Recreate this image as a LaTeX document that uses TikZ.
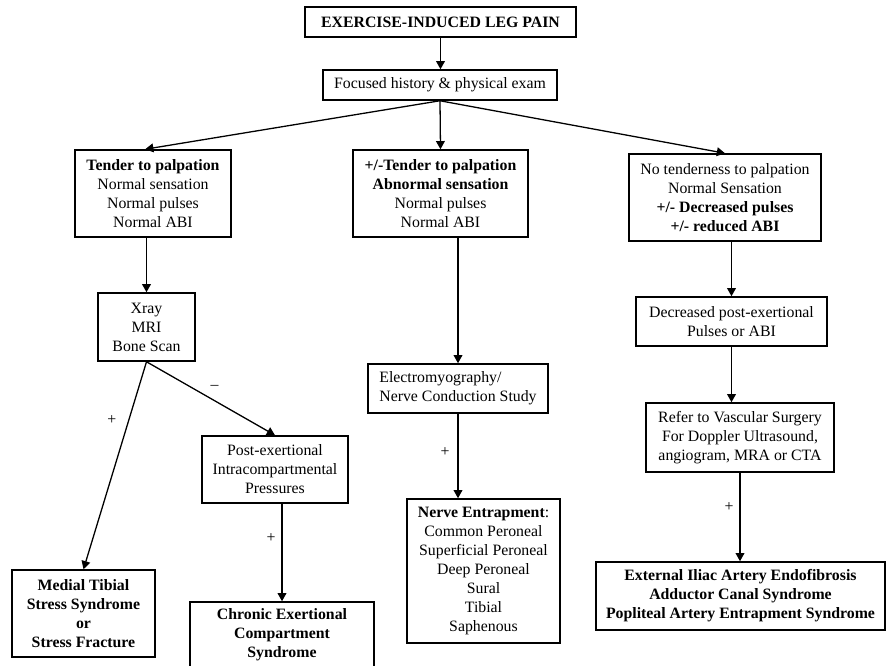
\documentclass[tikz,border=0pt]{standalone}
\usepackage{fontspec}
\setmainfont{Liberation Serif}
\usepackage{tikz}
\usetikzlibrary{arrows.meta}

\begin{document}
\begin{tikzpicture}[x=0.03cm, y=-0.03cm,
  every node/.style={font=\fontsize{13.5}{16.2}\selectfont, align=center},
  box/.style={draw, line width=1.3pt, inner sep=2pt},
  arr/.style={-{Triangle[length=7pt,width=7.5pt]}, line width=1.1pt},
  lbl/.style={inner sep=0pt}]
\useasboundingbox (0,0) rectangle (887,666);
% Top of the chart
\node[box, minimum width=8.13cm, minimum height=0.9cm] (pain) at (440.5,22) {\textbf{EXERCISE-INDUCED LEG PAIN}};
\node[box, minimum width=7.02cm, minimum height=0.9cm] (exam) at (440,85) {Focused history \& physical exam};
% Three findings
\node[box, minimum width=4.68cm, minimum height=2.61cm] (tender) at (153,193.5)
  {\textbf{Tender to palpation}\\Normal sensation\\Normal pulses\\Normal ABI};
\node[box, minimum width=5.25cm, minimum height=2.61cm] (neuro) at (440.5,193.5)
  {\textbf{+/-Tender to palpation}\\\textbf{Abnormal sensation}\\Normal pulses\\Normal ABI};
\node[box, minimum width=5.76cm, minimum height=2.61cm] (vasc) at (725,197.5)
  {No tenderness to palpation\\Normal Sensation\\\textbf{+/- Decreased pulses}\\\textbf{+/- reduced ABI}};
% Bone branch
\node[box, minimum width=2.91cm, minimum height=2.04cm] (imaging) at (146.5,327) {Xray\\MRI\\Bone Scan};
\node[box, minimum width=4.38cm, minimum height=2.01cm] (pressure) at (275,469.5)
  {Post-exertional\\Intracompartmental\\Pressures};
\node[box, minimum width=4.29cm, minimum height=2.61cm] (mtss) at (83.5,613.5)
  {\textbf{Medial Tibial}\\\textbf{Stress Syndrome}\\\textbf{or}\\\textbf{Stress Fracture}};
\node[box, minimum width=5.52cm, minimum height=1.98cm] (cecs) at (282,635)
  {\textbf{Chronic Exertional}\\\textbf{Compartment}\\\textbf{Syndrome}};
% Nerve branch
\node[box, align=left, minimum width=5.4cm, minimum height=1.47cm] (emg) at (458,388.5)
  {Electromyography/\\Nerve Conduction Study};
\node[box, minimum width=4.59cm, minimum height=4.32cm] (nerve) at (483.5,571)
  {\textbf{Nerve Entrapment}:\\Common Peroneal\\Superficial Peroneal\\Deep Peroneal\\Sural\\Tibial\\Saphenous};
% Vascular branch
\node[box, minimum width=5.73cm, minimum height=1.47cm] (pulses) at (731.5,321.5)
  {Decreased post-exertional\\Pulses or ABI};
\node[box, minimum width=5.64cm, minimum height=2.07cm] (refer) at (740,437.5)
  {Refer to Vascular Surgery\\For Doppler Ultrasound,\\angiogram, MRA or CTA};
\node[box, minimum width=8.67cm, minimum height=2.04cm] (artery) at (740.5,596)
  {\textbf{External Iliac Artery Endofibrosis}\\\textbf{Adductor Canal Syndrome}\\\textbf{Popliteal Artery Entrapment Syndrome}};
% Connectors
\draw[arr] (pain.south) -- (pain.south |- exam.north);
\draw[arr] (exam.south) -- (tender.100);
\draw[arr] (exam.south) -- (neuro.north);
\draw[arr] (exam.south) -- (vasc.north);
\draw[arr] (imaging.north |- tender.south) -- (imaging.north);
\draw[arr] (imaging.south) -- (mtss.north) node[lbl, pos=0.28, xshift=-14.5pt] {+};
\draw[arr] (imaging.south) -- (pressure.north) node[lbl, pos=0.53, yshift=11pt] {--};
\draw[arr] (cecs.north |- pressure.south) -- (cecs.north) node[lbl, pos=0.35, xshift=-9.4pt] {+};
\draw[arr] (emg.north |- neuro.south) -- (emg.north);
\draw[arr] (emg.south) -- (emg.south |- nerve.north) node[lbl, pos=0.45, xshift=-11pt] {+};
\draw[arr] (pulses.north |- vasc.south) -- (pulses.north);
\draw[arr] (pulses.south) -- (pulses.south |- refer.north);
\draw[arr] (refer.south) -- (refer.south |- artery.north) node[lbl, pos=0.39, xshift=-9.4pt] {+};
\end{tikzpicture}
\end{document}
